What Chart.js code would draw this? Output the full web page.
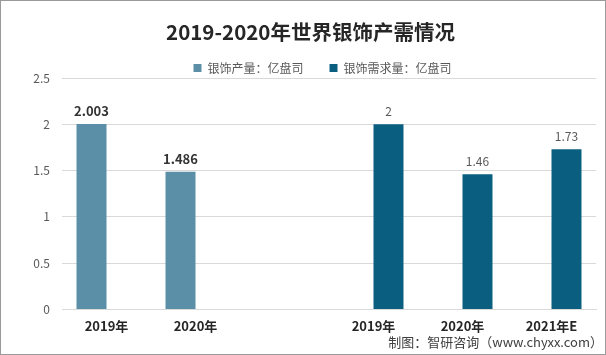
<!DOCTYPE html>
<html>
<head>
<meta charset="utf-8">
<script src="https://cdn.jsdelivr.net/npm/chart.js@4"></script>
<style>
html,body{margin:0;padding:0;background:#fff;}
#wrap{position:relative;width:604px;height:353px;border:1px solid #9a9a9a;}
canvas{display:block;}
</style>
</head>
<body>
<div id="wrap"><canvas id="c" width="604" height="353"></canvas></div>
<script>
const categories = ["2019年", "2020年", "", "2019年", "2020年", "2021年E"];
const productionLabel = "银饰产量：亿盘司";
const demandLabel = "银饰需求量：亿盘司";
const production = [2.003, 1.486, null, null, null, null];
const demand = [null, null, null, 2, 1.46, 1.73];
const yTicks = [0, 0.5, 1, 1.5, 2, 2.5];
const titleText = "2019-2020年世界银饰产需情况";
const sourceText = "制图：智研咨询（www.chyxx.com）";

const CJK = "'Noto Sans CJK SC', 'Noto Sans', sans-serif";

const valueLabels = {
  id: 'valueLabels',
  afterDatasetsDraw(chart) {
    const ctx = chart.ctx;
    ctx.save();
    ctx.textAlign = 'center';
    ctx.textBaseline = 'middle';
    chart.data.datasets.forEach((ds, di) => {
      const meta = chart.getDatasetMeta(di);
      meta.data.forEach((bar, i) => {
        const v = ds.data[i];
        if (v === null || v === undefined) return;
        if (di === 0) {
          ctx.font = "bold 13px " + CJK;
          ctx.fillStyle = '#333333';
        } else {
          ctx.font = "12px " + CJK;
          ctx.fillStyle = '#595959';
        }
        ctx.fillText(String(v), bar.x, bar.y - 13);
      });
    });
    ctx.restore();
  }
};

// nudge title and legend to the reference's horizontal/vertical placement
const headerShift = {
  id: 'headerShift',
  afterLayout(chart) {
    const t = chart.titleBlock;
    if (t) { t.left += 12; t.right += 12; }
    const l = chart.legend;
    if (l) { l.left += 24; l.right += 24; l.top -= 8.3; }
  }
};

const sourceNote = {
  id: 'sourceNote',
  afterDraw(chart) {
    const ctx = chart.ctx;
    ctx.save();
    ctx.font = "13px " + CJK;
    ctx.fillStyle = '#404040';
    ctx.textAlign = 'right';
    ctx.textBaseline = 'middle';
    ctx.fillText(sourceText, 602, 341);
    ctx.restore();
  }
};

new Chart(document.getElementById('c'), {
  type: 'bar',
  data: {
    labels: categories,
    datasets: [
      { label: productionLabel, data: production, backgroundColor: '#5A8FA7' },
      { label: demandLabel, data: demand, backgroundColor: '#0A5F80' }
    ]
  },
  options: {
    responsive: false,
    animation: false,
    devicePixelRatio: 1,
    layout: { padding: { left: 0, right: 9, top: 0, bottom: 11 } },
    datasets: { bar: { categoryPercentage: 0.674, barPercentage: 1.0 } },
    plugins: {
      title: {
        display: true,
        text: titleText,
        color: '#262626',
        font: { family: CJK, size: 20.5, weight: 'bold' },
        padding: { top: 18.7, bottom: 0 }
      },
      legend: {
        display: true,
        maxHeight: 33.7,
        labels: {
          color: '#595959',
          font: { family: CJK, size: 12 },
          boxWidth: 8, boxHeight: 8,
          padding: 26
        }
      },
      tooltip: { enabled: false }
    },
    scales: {
      x: {
        grid: { display: false, drawTicks: false },
        border: { display: true, color: '#d9d9d9' },
        ticks: {
          color: '#262626',
          font: { family: CJK, size: 13, weight: 'bold' },
          padding: 9,
          maxRotation: 0, autoSkip: false
        }
      },
      y: {
        min: 0, max: 2.5,
        afterBuildTicks(scale) { scale.ticks = yTicks.map(v => ({ value: v })); },
        afterFit(scale) { scale.width = 61; },
        grid: { color: '#d9d9d9', drawTicks: false },
        border: { display: false },
        ticks: {
          color: '#595959',
          font: { family: CJK, size: 12 },
          padding: 12,
          callback: v => String(v)
        }
      }
    }
  },
  plugins: [valueLabels, headerShift, sourceNote]
});
</script>
</body>
</html>
